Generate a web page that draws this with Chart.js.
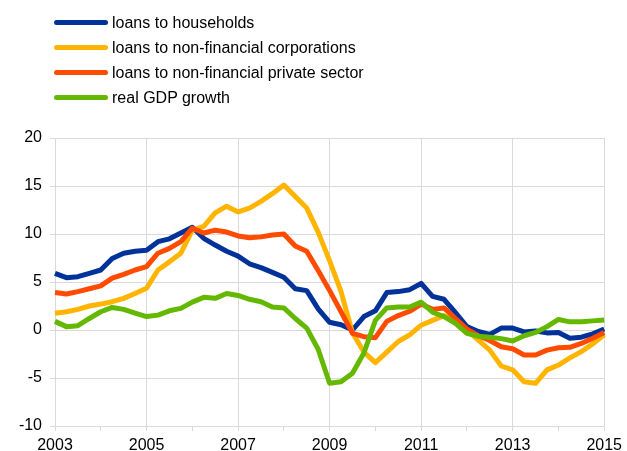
<!DOCTYPE html>
<html><head><meta charset="utf-8">
<script src="https://cdn.jsdelivr.net/npm/chart.js@4"></script>
<style>
html,body{margin:0;padding:0;background:#fff;}
#wrap{position:relative;width:627px;height:451px;}
#legend{position:absolute;left:54px;top:10px;font-family:"Liberation Sans",Arial,sans-serif;font-size:16px;color:#000;}
.item{display:flex;align-items:center;height:25px;white-space:nowrap;}
.swatch{width:54px;height:5px;border-radius:3px;margin-right:4px;}
</style></head>
<body><div id="wrap"><canvas id="c" width="627" height="451"></canvas><div id="legend"></div></div>
<script>
const quarters = [
 '2003Q1','2003Q2','2003Q3','2003Q4','2004Q1','2004Q2','2004Q3','2004Q4',
 '2005Q1','2005Q2','2005Q3','2005Q4','2006Q1','2006Q2','2006Q3','2006Q4',
 '2007Q1','2007Q2','2007Q3','2007Q4','2008Q1','2008Q2','2008Q3','2008Q4',
 '2009Q1','2009Q2','2009Q3','2009Q4','2010Q1','2010Q2','2010Q3','2010Q4',
 '2011Q1','2011Q2','2011Q3','2011Q4','2012Q1','2012Q2','2012Q3','2012Q4',
 '2013Q1','2013Q2','2013Q3','2013Q4','2014Q1','2014Q2','2014Q3','2014Q4',
 '2015Q1'
];
const households = [5.9,5.45,5.55,5.9,6.25,7.45,8.0,8.2,8.3,9.2,9.5,10.1,10.7,9.55,8.85,8.2,7.7,6.9,6.5,6.0,5.5,4.3,4.1,2.2,0.8,0.55,0.0,1.4,2.0,3.9,4.0,4.2,4.85,3.5,3.2,1.8,0.35,-0.15,-0.45,0.2,0.2,-0.2,-0.1,-0.3,-0.25,-0.85,-0.75,-0.4,0.1];
const nfc = [1.75,1.9,2.15,2.5,2.7,2.95,3.3,3.8,4.35,6.25,7.1,8.0,10.4,10.8,12.2,12.9,12.3,12.7,13.4,14.2,15.1,13.9,12.7,10.2,7.2,4.0,-0.3,-2.3,-3.4,-2.3,-1.2,-0.5,0.5,1.0,1.5,1.05,0.0,-1.05,-2.1,-3.75,-4.15,-5.4,-5.55,-4.15,-3.65,-2.9,-2.25,-1.45,-0.5];
const privateSector = [3.9,3.75,4.0,4.3,4.6,5.4,5.8,6.25,6.6,8.0,8.5,9.2,10.6,10.1,10.4,10.2,9.8,9.6,9.7,9.9,10.0,8.75,8.2,6.2,4.1,1.9,-0.35,-0.7,-0.8,0.9,1.5,1.95,2.7,2.15,2.3,1.2,0.1,-0.6,-1.1,-1.75,-1.95,-2.6,-2.6,-2.1,-1.85,-1.8,-1.4,-0.85,-0.25];
const gdp = [0.9,0.35,0.45,1.2,1.9,2.35,2.15,1.75,1.4,1.55,2.0,2.25,2.9,3.4,3.3,3.8,3.6,3.2,2.95,2.4,2.3,1.2,0.2,-2.0,-5.55,-5.4,-4.5,-2.4,1.0,2.3,2.4,2.4,2.9,1.85,1.4,0.7,-0.35,-0.65,-0.75,-0.9,-1.15,-0.6,-0.25,0.35,1.1,0.85,0.85,0.95,1.05];
const seriesNames = ['loans to households','loans to non-financial corporations','loans to non-financial private sector','real GDP growth'];
const seriesColors = ['#003299','#FFB400','#FF4B00','#65B800'];
const yTicks = [-10,-5,0,5,10,15,20];

const FONT = {family:'"Liberation Sans", Arial, sans-serif', size:16};
const GRID = '#d9d9d9';
const values = [households, nfc, privateSector, gdp];
const orders = [3,2,1,0];

const datasets = values.map((v,i)=>({
  label: seriesNames[i], data: v, borderColor: seriesColors[i], backgroundColor: seriesColors[i],
  borderWidth: 5, pointRadius: 0, tension: 0, fill: false, order: orders[i],
  borderJoinStyle: 'round', borderCapStyle: 'butt'
}));

const chart = new Chart(document.getElementById('c'), {
  type: 'line',
  data: { labels: quarters, datasets },
  options: {
    responsive: false, animation: false, devicePixelRatio: 1,
    layout: { padding: { top: 138, right: 19, left: 0, bottom: 0 } },
    plugins: { legend: { display: false }, tooltip: { enabled: false } },
    scales: {
      x: {
        type: 'category', offset: false,
        grid: {
          color: ctx => (ctx.tick && ctx.tick.label) ? GRID : 'rgba(0,0,0,0)',
          tickColor: ctx => (ctx.index % 4 === 0) ? GRID : 'rgba(0,0,0,0)',
          tickLength: 5, lineWidth: 1, drawTicks: true
        },
        border: { color: GRID },
        ticks: {
          autoSkip: false, maxRotation: 0, minRotation: 0, padding: 5, color: '#000', font: FONT,
          callback: function(val){ const l = this.getLabelForValue(val); const y = parseInt(l.slice(0,4),10); return (l.endsWith('Q1') && y % 2 === 1) ? String(y) : ''; }
        },
        afterFit: s => { s.height = 25; }
      },
      y: {
        min: -10, max: 20,
        afterBuildTicks: s => { s.ticks = yTicks.map(v => ({value: v})); },
        grid: { color: GRID, tickColor: GRID, tickLength: 5, lineWidth: 1 },
        border: { color: GRID },
        ticks: { padding: 8, color: '#000', font: FONT },
        afterFit: s => { s.width = 55; }
      }
    }
  }
});

const leg = document.getElementById('legend');
seriesNames.forEach((n,i)=>{
  const d = document.createElement('div'); d.className='item';
  const sw = document.createElement('span'); sw.className='swatch'; sw.style.background = seriesColors[i];
  const t = document.createElement('span'); t.textContent = n;
  d.appendChild(sw); d.appendChild(t); leg.appendChild(d);
});
</script>
</body></html>
